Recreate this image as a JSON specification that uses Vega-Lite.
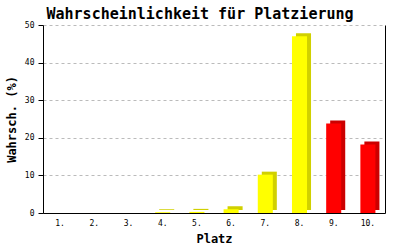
{
  "$schema": "https://vega.github.io/schema/vega-lite/v6.json",
  "width": 342,
  "height": 188,
  "autosize": {"type": "none"},
  "padding": {"left": 43, "top": 25, "right": 15, "bottom": 37},
  "background": "#ffffff",
  "title": {
    "text": "Wahrscheinlichkeit für Platzierung",
    "font": "DejaVu Sans Mono",
    "fontSize": 15,
    "fontWeight": "bold",
    "color": "#000000",
    "anchor": "middle",
    "frame": "group",
    "dx": -14,
    "offset": -1
  },
  "config": {
    "view": {"stroke": null},
    "axis": {
      "labelFont": "DejaVu Sans Mono",
      "labelFontSize": 8,
      "labelColor": "#000000",
      "titleFont": "DejaVu Sans Mono",
      "titleFontSize": 12,
      "titleFontWeight": "bold",
      "titleColor": "#000000",
      "domainColor": "#000000",
      "domainWidth": 1,
      "tickColor": "#000000"
    }
  },
  "data": {
    "values": [
      {"platz": 1, "wert": 0},
      {"platz": 2, "wert": 0},
      {"platz": 3, "wert": 0},
      {"platz": 4, "wert": 0.2},
      {"platz": 5, "wert": 0.3},
      {"platz": 6, "wert": 1.0},
      {"platz": 7, "wert": 10.2},
      {"platz": 8, "wert": 47.0},
      {"platz": 9, "wert": 23.8},
      {"platz": 10, "wert": 18.2}
    ]
  },
  "resolve": {"axis": {"y": "independent"}},
  "layer": [
    {
      "transform": [{"filter": "datum.wert > 0"}],
      "mark": {"type": "bar", "xOffset": 4, "yOffset": -3, "y2Offset": -1},
      "encoding": {
        "x": {
          "field": "platz", "type": "ordinal",
          "scale": {"paddingInner": 0.56, "paddingOuter": 0.28},
          "axis": {
            "title": "Platz",
            "labelExpr": "datum.value + '.'",
            "labelAngle": 0,
            "ticks": false,
            "labelPadding": 6,
            "titlePadding": 6
          }
        },
        "y": {
          "field": "wert", "type": "quantitative",
          "scale": {"domain": [0, 50], "nice": false},
          "axis": {
            "title": "Wahrsch. (%)",
            "values": [0, 10, 20, 30, 40, 50],
            "tickSize": 5,
            "labelPadding": 4,
            "titlePadding": 6,
            "gridColor": "#bbbbbb",
            "gridDash": [3, 3],
            "gridWidth": 1
          }
        },
        "color": {
          "condition": {"test": "datum.platz >= 9", "value": "#cc0000"},
          "value": "#d0d000"
        }
      }
    },
    {
      "mark": {"type": "bar"},
      "encoding": {
        "x": {"field": "platz", "type": "ordinal"},
        "y": {
          "field": "wert", "type": "quantitative",
          "axis": {
            "orient": "right",
            "labels": false,
            "ticks": false,
            "grid": false,
            "title": null,
            "domainColor": "#000000"
          }
        },
        "color": {
          "condition": {"test": "datum.platz >= 9", "value": "#ff0000"},
          "value": "#ffff00"
        }
      }
    }
  ]
}
